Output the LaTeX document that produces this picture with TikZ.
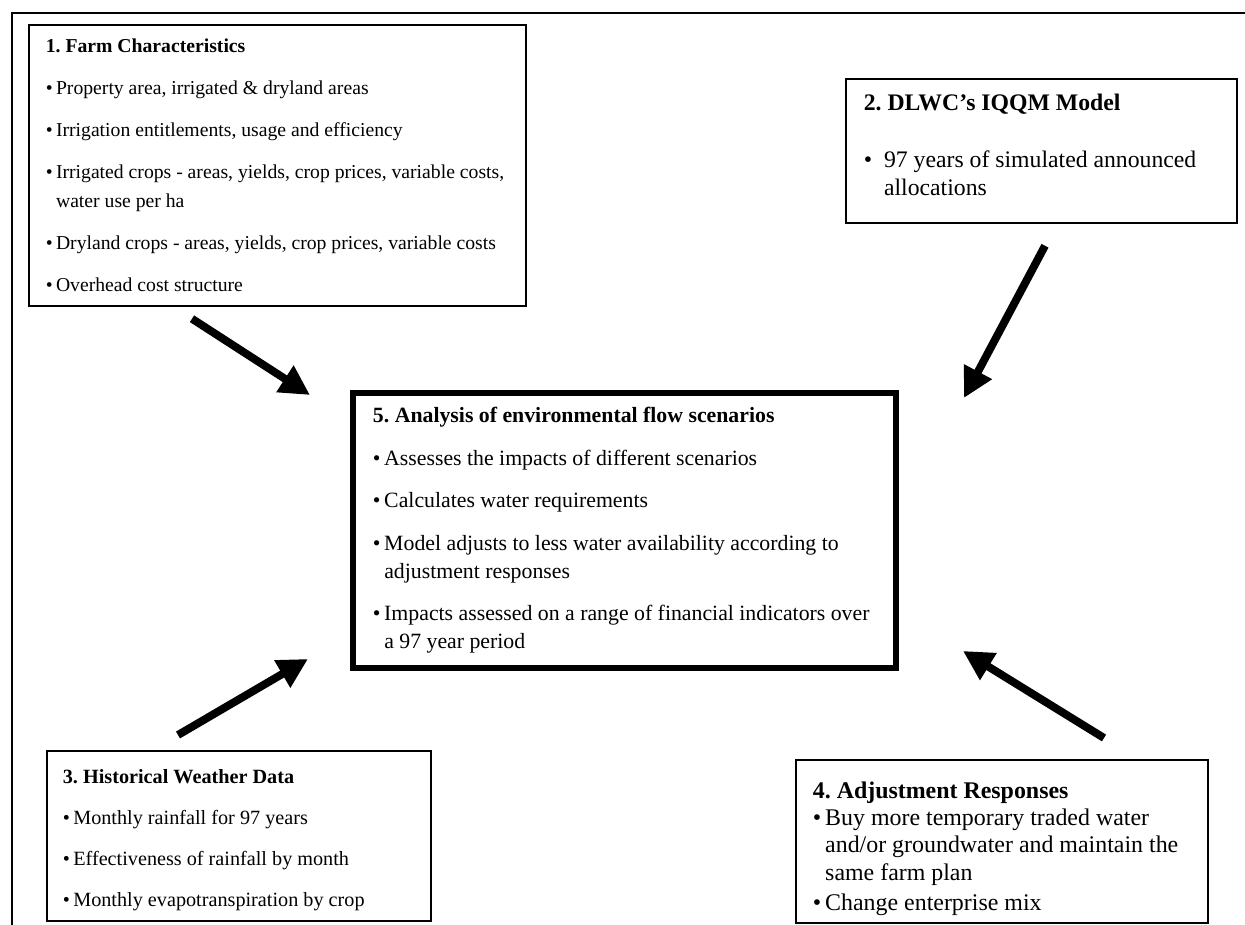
\documentclass[tikz,border=0pt]{standalone}
\usepackage{fontspec}
\setmainfont{Liberation Serif}
\usetikzlibrary{arrows.meta,calc}

\newcommand{\blt}{\textbullet\,}
\newcommand{\hng}{\phantom{\textbullet\,}}

\tikzset{
  infobox/.style={draw, line width=1pt, anchor=north west, align=flush left,
    inner xsep=0.34cm, inner ysep=0pt},
  bigarrow/.style={line width=4.5pt, -{Triangle[length=17pt,width=17pt]}},
}

\begin{document}
\frenchspacing
\begin{tikzpicture}
  \useasboundingbox (0,0) rectangle (24.9,18.5);
  % frame
  \draw[line width=1.1pt] (24.9,18.24) -- (0.24,18.24) -- (0.24,0);

  % input boxes
  \node[infobox, text width=9.26cm, minimum height=5.62cm,
    font={\fontsize{11.2}{16.5}\selectfont}] (farm) at (0.56,18.02) {%
    {\bfseries 1. Farm Characteristics}\\[7.4pt]
    \blt Property area, irrigated \& dryland areas\\[7.4pt]
    \blt Irrigation entitlements, usage and efficiency\\[7.4pt]
    \blt Irrigated crops - areas, yields, crop prices, variable costs,\\
    \hng water use per ha\\[7.4pt]
    \blt Dryland crops - areas, yields, crop prices, variable costs\\[7.4pt]
    \blt Overhead cost structure};
  \node[infobox, inner xsep=0.36cm, text width=7.10cm, minimum height=2.88cm,
    font={\fontsize{13.5}{16}\selectfont}] (iqqm) at (16.90,16.94) {%
    {\bfseries 2. DLWC's IQQM Model}\\[16.4pt]
    \textbullet\enspace 97 years of simulated announced\\
    \phantom{\textbullet\enspace}allocations\rule[-6.8pt]{0pt}{6.8pt}};
  \node[infobox, inner xsep=0.32cm, text width=7.04cm, minimum height=3.40cm,
    font={\fontsize{11.5}{16.5}\selectfont}] (weather) at (0.92,3.50) {%
    {\bfseries 3. Historical Weather Data}\rule{0pt}{12.6pt}\\[6.8pt]
    \blt Monthly rainfall for 97 years\\[6.8pt]
    \blt Effectiveness of rainfall by month\\[6.8pt]
    \blt Monthly evapotranspiration by crop};
  \node[infobox, text width=7.56cm, minimum height=3.26cm,
    font={\fontsize{13.6}{15.4}\selectfont}] (adjust) at (15.90,3.32) {%
    {\bfseries 4. Adjustment Responses}\rule{0pt}{18.3pt}\\
    \blt Buy more temporary traded water\\
    \hng and/or groundwater and maintain the\\
    \hng same farm plan\\[2.2pt]
    \blt Change enterprise mix};

  % central box
  \node[infobox, line width=3.4pt, inner xsep=0.40cm, text width=10.06cm,
    minimum height=5.50cm, font={\fontsize{12.4}{16}\selectfont}]
    (analysis) at (7.00,10.70) {%
    {\bfseries 5. Analysis of environmental flow scenarios}\\[8.2pt]
    \blt Assesses the impacts of different scenarios\\[8.2pt]
    \blt Calculates water requirements\\[8.2pt]
    \blt Model adjusts to less water availability according to\\
    \hng adjustment responses\\[8.2pt]
    \blt Impacts assessed on a range of financial indicators over\\
    \hng a 97 year period};

  % arrow ends
  \coordinate (farm-out) at ($(farm.south west)+(3.28,-0.24)$);
  \coordinate (farm-in) at ($(analysis.north west)+(-0.80,-0.10)$);
  \coordinate (iqqm-out) at ($(iqqm.south west)+(4.00,-0.44)$);
  \coordinate (iqqm-in) at ($(analysis.north east)+(1.30,-0.16)$);
  \coordinate (weather-out) at ($(weather.north west)+(2.64,0.30)$);
  \coordinate (weather-in) at ($(analysis.south west)+(-0.84,0.24)$);
  \coordinate (adjust-out) at ($(adjust.north west)+(6.18,0.42)$);
  \coordinate (adjust-in) at ($(analysis.south east)+(1.28,0.40)$);

  \draw[bigarrow] (farm-out) -- (farm-in);
  \draw[bigarrow] (iqqm-out) -- (iqqm-in);
  \draw[bigarrow] (weather-out) -- (weather-in);
  \draw[bigarrow] (adjust-out) -- (adjust-in);
\end{tikzpicture}
\end{document}
